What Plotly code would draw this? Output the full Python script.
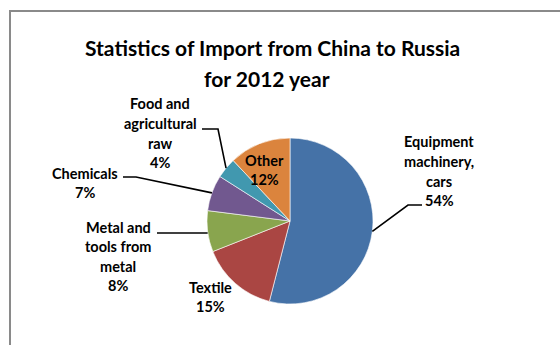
import math
import plotly.graph_objects as go

categories = ["Equipment machinery, cars", "Textile", "Metal and tools from metal",
              "Chemicals", "Food and agricultural raw", "Other"]
values = [54, 15, 8, 7, 4, 12]
colors = ["#4572A7", "#AA4643", "#89A54E", "#71588F", "#4198AF", "#DB843D"]
label_lines = [["Equipment", "machinery,", "cars"], ["Textile"], ["Metal and", "tools from", "metal"],
               ["Chemicals"], ["Food and", "agricultural", "raw"], ["Other"]]

W, H = 560, 345
FONT = "Lato"

# pie geometry in pixels
CX, CY, R = 290, 221, 83

def px(x):
    return x / W

def py(y):
    return 1 - y / H

fig = go.Figure(go.Pie(
    labels=categories, values=values, sort=False, direction="clockwise", rotation=0,
    marker=dict(colors=colors, line=dict(color="#FFFFFF", width=0.6)),
    textinfo="none", hoverinfo="label+percent",
    domain=dict(x=[px(CX - R), px(CX + R)], y=[py(CY + R), py(CY - R)]),
    showlegend=False,
))

total = sum(values)
cum = 0
edge = []
for v in values:
    mid = (cum + v / 2) / total * 2 * math.pi
    edge.append((CX + R * math.sin(mid), CY - R * math.cos(mid)))
    cum += v

# label layout: (center x, first line y, leader polyline points besides pie edge)
layout_info = [
    (439, 142, [(422, 205), (408, 205)]),
    (210, 287, None),
    (118, 227, [(157, 233), (edge[2][0], 233)]),
    (85, 173, [(123, 177), (136, 177)]),
    (160, 104, [(202, 129), (218, 129)]),
    (264, 160, None),
]

annotations = []
shapes = []
LS = 19.5
for i, (lines, (cx, y0, pts)) in enumerate(zip(label_lines, layout_info)):
    pct = f"{round(values[i] / total * 100)}%"
    all_lines = lines + [pct]
    for j, t in enumerate(all_lines):
        annotations.append(dict(
            x=px(cx), y=py(y0 + j * LS), xref="paper", yref="paper",
            text=f"<b>{t}</b>", showarrow=False, xanchor="center", yanchor="middle",
            font=dict(family=FONT, size=14.5, color="#000000"),
        ))
    if pts:
        seq = pts + [edge[i]] if i != 2 else pts
        path = "M " + " L ".join(f"{px(x)},{py(y)}" for x, y in seq)
        shapes.append(dict(type="path", path=path, xref="paper", yref="paper",
                           line=dict(color="#000000", width=1.6)))

# title
annotations.append(dict(x=px(272), y=py(47), xref="paper", yref="paper", showarrow=False,
                        text="<b>Statistics of Import from China to Russia</b>",
                        xanchor="center", yanchor="middle",
                        font=dict(family=FONT, size=21, color="#000000")))
annotations.append(dict(x=px(267), y=py(78), xref="paper", yref="paper", showarrow=False,
                        text="<b>for 2012 year</b>",
                        xanchor="center", yanchor="middle",
                        font=dict(family=FONT, size=21, color="#000000")))

# chart frame
shapes.append(dict(type="path", xref="paper", yref="paper",
                   path=f"M {px(10)},{py(360)} L {px(10)},{py(11)} L {px(600)},{py(11)}",
                   line=dict(color="#8A8A8A", width=2)))

fig.update_layout(
    width=W, height=H, margin=dict(l=0, r=0, t=0, b=0),
    paper_bgcolor="#FFFFFF", plot_bgcolor="#FFFFFF",
    annotations=annotations, shapes=shapes,
)
fig.write_html("out.html", include_plotlyjs=True, config={"displayModeBar": False})
